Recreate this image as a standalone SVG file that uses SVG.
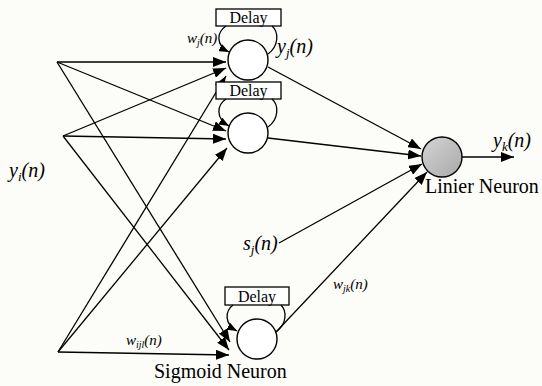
<svg xmlns="http://www.w3.org/2000/svg" width="542" height="386" viewBox="0 0 542 386">
<defs>
<marker id="arr" markerUnits="userSpaceOnUse" markerWidth="13" markerHeight="10" refX="13" refY="5" orient="auto"><path d="M0,0 L13,5 L0,10 z" fill="#000"/></marker>
<marker id="arrs" markerUnits="userSpaceOnUse" markerWidth="10" markerHeight="8" refX="10" refY="4" orient="auto"><path d="M0,0 L10,4 L0,8 z" fill="#000"/></marker>
<linearGradient id="gray" x1="0" y1="0" x2="1" y2="1"><stop offset="0" stop-color="#d4d4d4"/><stop offset="1" stop-color="#a9a9a9"/></linearGradient>
<style>
.ln{stroke:#000;stroke-width:1.3;fill:none}
.ar{marker-end:url(#arr)}
.lp{stroke:#000;stroke-width:1.3;fill:none;marker-end:url(#arrs)}
.nc{stroke:#000;stroke-width:1.4;fill:#fff}
.box{stroke:#000;stroke-width:1.3;fill:#fff}
.t{font-family:"Liberation Serif","Times New Roman",serif;fill:#000}
.lb{font-size:20px}
.dl{font-size:16px}
.it{font-style:italic}
.w{font-size:15px}
</style>
</defs>
<rect width="542" height="386" fill="#fcfcf8"/>
<g id="connectors">
<line class="ln ar" x1="57" y1="62" x2="226" y2="62"/>
<line class="ln ar" x1="57" y1="62" x2="226" y2="131"/>
<line class="ln ar" x1="57" y1="62" x2="230" y2="342"/>
<line class="ln ar" x1="63" y1="136" x2="226" y2="68"/>
<line class="ln ar" x1="63" y1="136" x2="226" y2="139"/>
<line class="ln ar" x1="63" y1="136" x2="229" y2="350"/>
<line class="ln ar" x1="58" y1="352" x2="226" y2="76"/>
<line class="ln ar" x1="58" y1="352" x2="227" y2="148"/>
<line class="ln ar" x1="58" y1="352" x2="229" y2="355"/>
<line class="ln ar" x1="268" y1="67" x2="421" y2="149"/>
<line class="ln ar" x1="268" y1="138" x2="421" y2="156"/>
<line class="ln ar" x1="279" y1="243" x2="422" y2="164"/>
<line class="ln ar" x1="276" y1="332" x2="427" y2="172"/>
<line class="ln ar" x1="462" y1="157" x2="514" y2="157"/>
</g>
<g id="neuron1">
<rect class="box" x="216" y="9" width="65" height="17"/>
<text class="t dl" x="248.5" y="23" text-anchor="middle">Delay</text>
<path class="ln" d="M268,54 C279,46 279,32 272,26"/>
<path class="lp" d="M226,26 C217,32 215,45 229,52"/>
<circle class="nc" cx="248" cy="60" r="20"/>
</g>
<g id="neuron2">
<rect class="box" x="216" y="82" width="65" height="17"/>
<text class="t dl" x="248.5" y="96" text-anchor="middle">Delay</text>
<path class="ln" d="M268,127 C279,119 279,105 272,99"/>
<path class="lp" d="M226,99 C217,105 215,118 229,126"/>
<circle class="nc" cx="248" cy="133" r="20"/>
</g>
<g id="sigmoid">
<rect class="box" x="225" y="287" width="64" height="18"/>
<text class="t dl" x="257" y="302" text-anchor="middle">Delay</text>
<path class="ln" d="M276,332 C287,324 287,311 281,305"/>
<path class="lp" d="M233,305 C225,311 224,324 237,331"/>
<circle class="nc" cx="257" cy="339" r="20"/>
<text class="t lb" x="154" y="378">Sigmoid Neuron</text>
</g>
<g id="linear">
<circle cx="442" cy="157" r="20" fill="url(#gray)" stroke="#000" stroke-width="1.4"/>
<text class="t lb" x="425" y="193">Linier Neuron</text>
</g>
<g id="labels">
<text class="t lb it" x="9" y="177">y<tspan font-size="13" dy="4">i</tspan><tspan dy="-4">(n)</tspan></text>
<text class="t lb it" x="277" y="53">y<tspan font-size="13" dy="4">j</tspan><tspan dy="-4">(n)</tspan></text>
<text class="t lb it" x="493" y="147">y<tspan font-size="13" dy="4">k</tspan><tspan dy="-4">(n)</tspan></text>
<text class="t lb it" x="243" y="250">s<tspan font-size="13" dy="4">j</tspan><tspan dy="-4">(n)</tspan></text>
<text class="t w it" x="187" y="43">w<tspan font-size="10" dy="3">j</tspan><tspan dy="-3">(n)</tspan></text>
<text class="t w it" x="333" y="289">w<tspan font-size="10" dy="3">jk</tspan><tspan dy="-3">(n)</tspan></text>
<text class="t w it" x="126" y="345">w<tspan font-size="10" dy="3">ijl</tspan><tspan dy="-3">(n)</tspan></text>
</g>
</svg>
